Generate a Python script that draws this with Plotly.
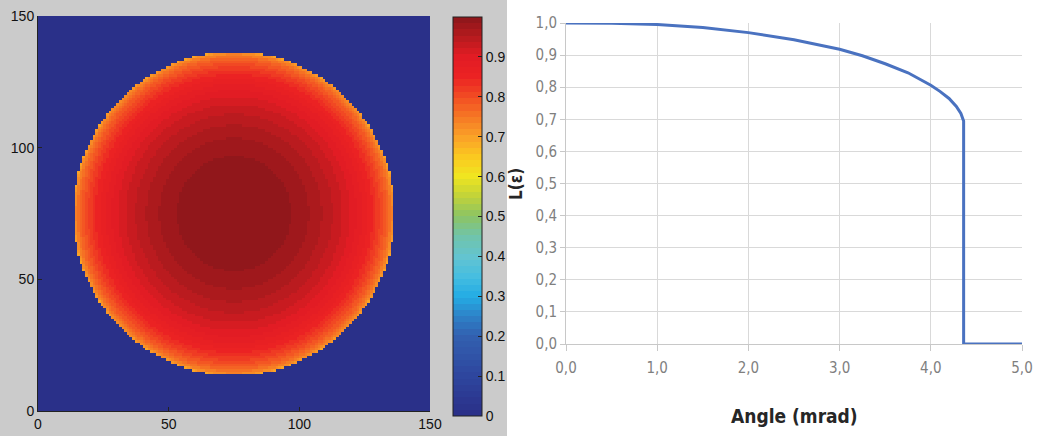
import numpy as np
import plotly.graph_objects as go

# ---- data ----
# right panel: L(eps) versus angle (mrad)
angle_mrad = [0.0, 0.5, 1.0, 1.5, 2.0, 2.5, 3.0, 3.25, 3.5, 3.75, 4.0, 4.1, 4.2, 4.28, 4.33, 4.36, 4.36, 5.0]
L_eps = [1.0, 0.999, 0.995, 0.986, 0.970, 0.948, 0.918, 0.898, 0.873, 0.845, 0.806, 0.787, 0.765, 0.740, 0.718, 0.695, 0.0, 0.0]

# left panel: disk image (pixels), its centre/radius and the angle of its edge
image_size = 150
disk_center_x = 75.0
disk_center_y = 75.0
disk_radius_px = 61.5
disk_edge_angle = 4.36

# tick labels
img_ticks = [0, 50, 100, 150]
cbar_ticks = [0, 0.1, 0.2, 0.3, 0.4, 0.5, 0.6, 0.7, 0.8, 0.9]
cbar_labels = ["0", "0.1", "0.2", "0.3", "0.4", "0.5", "0.6", "0.7", "0.8", "0.9"]
x2_ticks = [0, 1, 2, 3, 4, 5]
x2_labels = ["0,0", "1,0", "2,0", "3,0", "4,0", "5,0"]
y2_ticks = [0, 0.1, 0.2, 0.3, 0.4, 0.5, 0.6, 0.7, 0.8, 0.9, 1.0]
y2_labels = ["0,0", "0,1", "0,2", "0,3", "0,4", "0,5", "0,6", "0,7", "0,8", "0,9", "1,0"]

# ---- build heatmap table from the profile ----
centres = np.arange(image_size) + 0.5
X, Y = np.meshgrid(centres, centres)
R = np.hypot(X - disk_center_x, Y - disk_center_y)
theta = R / disk_radius_px * disk_edge_angle
n_prof = 16
prof_a = angle_mrad[:n_prof]
prof_L = L_eps[:n_prof]
Z = np.where(theta <= disk_edge_angle, np.interp(theta, prof_a, prof_L), 0.0)

# ---- washed-out MATLAB jet, 64 discrete levels ----
jet_pos = [0.0, 0.1, 0.2, 0.25, 0.3, 0.35, 0.4, 0.45, 0.5, 0.55, 0.6, 0.65, 0.7, 0.75, 0.8, 0.85, 0.9, 0.95, 1.0]
jet_rgb = [(42, 46, 135), (46, 70, 158), (50, 96, 176), (45, 130, 200), (36, 172, 228),
           (70, 190, 224), (100, 196, 208), (112, 196, 170), (140, 196, 100), (192, 210, 58),
           (240, 230, 32), (250, 200, 32), (250, 160, 40), (245, 120, 36), (242, 76, 35),
           (235, 34, 35), (226, 28, 36), (182, 27, 30), (138, 22, 27)]
jet_rgb = np.array(jet_rgb, dtype=float)
n_levels = 64
colorscale = []
for i in range(n_levels):
    t = (i + 0.5) / n_levels
    c = [int(round(np.interp(t, jet_pos, jet_rgb[:, k]))) for k in range(3)]
    col = f"rgb({c[0]},{c[1]},{c[2]})"
    colorscale.append([i / n_levels, col])
    colorscale.append([(i + 1) / n_levels, col])

W, H = 1043, 436

def px_x(p):
    return p / W

def px_y(p):
    return 1 - p / H

fig = go.Figure()

fig.add_trace(go.Heatmap(
    x=centres, y=centres, z=Z,
    zmin=0, zmax=1.0,
    colorscale=colorscale,
    xaxis="x", yaxis="y",
    colorbar=dict(
        x=px_x(453), xanchor="left",
        y=px_y(416), yanchor="bottom",
        len=399, lenmode="pixels",
        thickness=29, thicknessmode="pixels",
        outlinecolor="#222222", outlinewidth=1,
        tickvals=cbar_ticks, ticktext=cbar_labels,
        ticks="inside", ticklen=4, tickcolor="#222222",
        tickfont=dict(family="Liberation Sans, Arial, sans-serif", size=14, color="#111111"),
        xpad=0, ypad=0,
    ),
    hoverinfo="skip",
))

fig.add_trace(go.Scatter(
    x=angle_mrad, y=L_eps, mode="lines",
    line=dict(color="#4a72c0", width=3),
    xaxis="x2", yaxis="y2", showlegend=False,
))

axis_font = dict(family="Liberation Sans, Arial, sans-serif", size=14, color="#111111")
xl_font = dict(family="Liberation Sans Narrow, DejaVu Sans Condensed, Arial Narrow, sans-serif", size=15, color="#7f7f7f")
title_family = "Liberation Sans Narrow, DejaVu Sans Condensed, Arial Narrow, sans-serif"

fig.update_layout(
    width=W, height=H,
    margin=dict(l=0, r=0, t=0, b=0, autoexpand=False),
    paper_bgcolor="white",
    plot_bgcolor="white",
    showlegend=False,
    shapes=[dict(type="rect", xref="paper", yref="paper", x0=0, x1=px_x(507), y0=0, y1=1,
                 fillcolor="#cbcbcb", line=dict(width=0), layer="below")],
    xaxis=dict(domain=[px_x(38), px_x(430)], range=[0, image_size], automargin=False,
               tickvals=img_ticks, ticks="inside", ticklen=4, tickcolor="#222222",
               showline=True, linecolor="#222222", linewidth=1, mirror=False,
               showgrid=False, zeroline=False, tickfont=axis_font, anchor="y"),
    yaxis=dict(domain=[px_y(411), px_y(16)], range=[0, image_size], automargin=False,
               tickvals=img_ticks, ticks="inside", ticklen=4, tickcolor="#222222",
               showline=True, linecolor="#222222", linewidth=1,
               showgrid=False, zeroline=False, tickfont=axis_font, anchor="x"),
    xaxis2=dict(domain=[px_x(566), px_x(1022)], range=[0, 5], automargin=False,
                tickvals=x2_ticks, ticktext=x2_labels, ticklabelstandoff=4,
                showgrid=True, gridcolor="#d9d9d9", gridwidth=1,
                showline=True, linecolor="#c8c8c8", linewidth=1,
                ticks="outside", ticklen=6, tickcolor="#c8c8c8",
                zeroline=False, tickfont=xl_font, anchor="y2"),
    yaxis2=dict(domain=[px_y(344), px_y(23)], range=[0, 1.0], automargin=False,
                tickvals=y2_ticks, ticktext=y2_labels,
                showgrid=True, gridcolor="#d9d9d9", gridwidth=1,
                showline=True, linecolor="#c8c8c8", linewidth=1,
                ticks="outside", ticklen=5, tickcolor="#c8c8c8",
                zeroline=False, tickfont=xl_font, anchor="x2"),
    annotations=[
        dict(text="<b>Angle (mrad)</b>", xref="paper", yref="paper",
             x=px_x(794), y=px_y(416), xanchor="center", yanchor="middle", showarrow=False,
             font=dict(family=title_family, size=19, color="#262626")),
        dict(text="<b>L(ε)</b>", xref="paper", yref="paper",
             x=px_x(516), y=px_y(184), xanchor="center", yanchor="middle", showarrow=False,
             textangle=-90,
             font=dict(family=title_family, size=17, color="#262626")),
    ],
)

fig.write_html("out.html",
               config={"displayModeBar": False},
               post_script="document.body.style.margin='0px';document.body.style.overflow='hidden';")
